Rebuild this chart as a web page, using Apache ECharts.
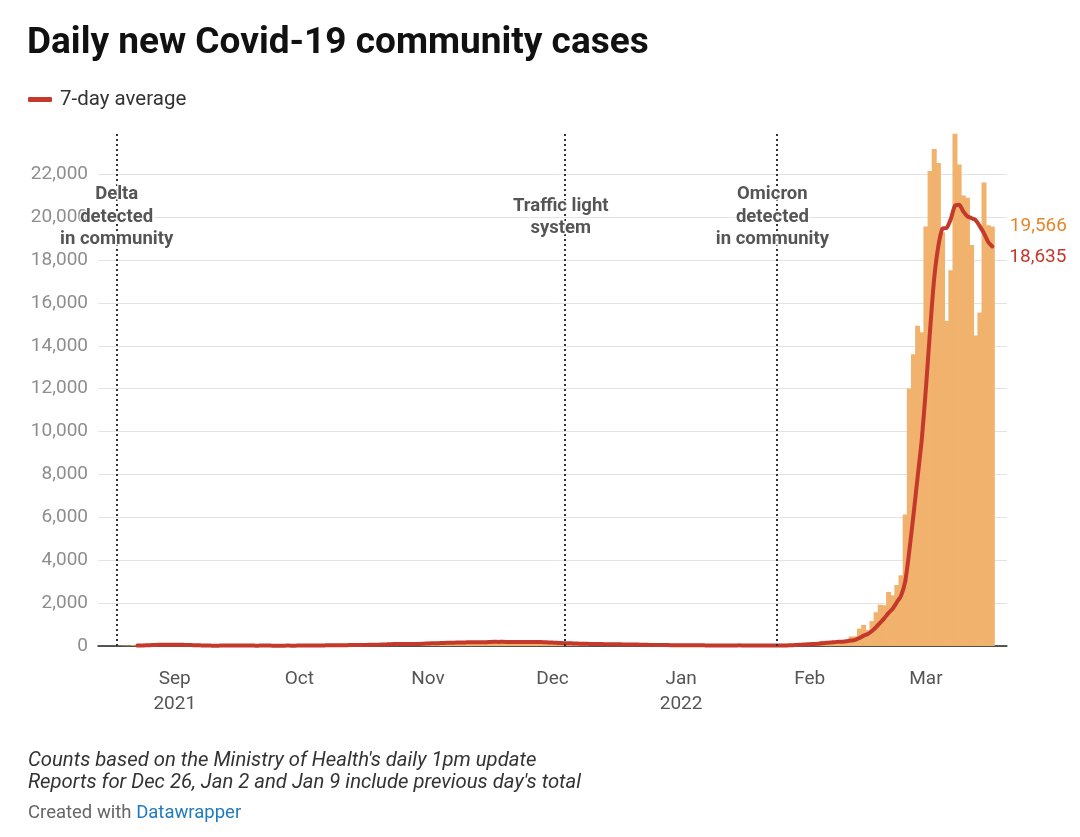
<!DOCTYPE html>
<html><head><meta charset="utf-8">
<script src="https://cdn.jsdelivr.net/npm/echarts@6/dist/echarts.min.js"></script>
<style>html,body{margin:0;padding:0;background:#fff}#c{width:1080px;height:837px}</style>
</head><body><div id="c"></div>
<script>
// ---- axis range ----
const axisStart = '2021-08-14';
const axisDays = 219;
const casesStart = '2021-08-17';
const avgStart = '2021-08-23';

// ---- daily new community cases, by month ----
const casesAug = [1, 6, 11, 20, 21, 35, 35, 41, 62, 68, 70, 83, 53, 49, 49];
const casesSep = [75, 49, 28, 20, 20, 20, 21, 13, 11, 11, 20, 33, 33, 15, 15, 13, 11, 23, 24, 22, 14, 17, 15, 9, 12, 18, 8, 45, 9, 19];
const casesOct = [19, 27, 33, 29, 27, 39, 29, 44, 34, 60, 35, 30, 55, 71, 65, 43, 51, 60, 94, 48, 102, 129, 104, 80, 79, 79, 74, 89, 125, 160, 143];
const casesNov = [162, 126, 100, 147, 163, 206, 190, 190, 125, 147, 185, 175, 201, 207, 173, 222, 194, 167, 200, 172, 143, 205, 215, 215, 178, 182, 149, 137, 181, 134];
const casesDec = [146, 123, 92, 99, 135, 102, 101, 89, 87, 77, 86, 94, 82, 72, 80, 79, 68, 53, 53, 60, 75, 52, 56, 30, null, 63, 53, 43, 43, 29, 49];
const casesJan = [null, 57, 27, 21, 40, 39, 12, null, 61, 29, 14, 26, 25, 18, 36, 26, 25, 24, 24, 15, 22, 28, 25, 6, 23, 56, 47, 80, 103, 89, 106];
const casesFeb = [91, 142, 147, 243, 208, 188, 243, 202, 184, 306, 446, 454, 810, 980, 744, 1160, 1573, 1929, 1901, 2522, 2365, 2846, 3297, 6137, 12011, 13606, 14941, 14633];
const casesMar = [19566, 22152, 23183, 22527, 19300, 15161, 17522, 23894, 22454, 21015, 20907, 18699, 14485, 15554, 21616, 19618, 19566];

// ---- 7-day average, by month ----
const avgAug = [18, 24, 32, 40, 47, 56, 59, 61, 62];
const avgSep = [64, 61, 55, 46, 41, 37, 33, 24, 19, 17, 17, 18, 20, 19, 20, 20, 20, 20, 19, 18, 17, 18, 18, 18, 16, 15, 13, 18, 17, 17];
const avgOct = [19, 21, 23, 26, 23, 28, 29, 33, 34, 37, 38, 39, 41, 47, 50, 51, 50, 54, 63, 62, 66, 75, 84, 88, 91, 89, 92, 91, 90, 98, 107];
const avgNov = [119, 126, 129, 138, 143, 150, 156, 160, 160, 167, 172, 174, 173, 176, 173, 187, 194, 191, 195, 191, 182, 186, 185, 188, 190, 187, 184, 183, 180, 168];
const avgDec = [158, 150, 137, 130, 130, 119, 114, 106, 101, 99, 97, 91, 88, 84, 83, 81, 80, 75, 70, 66, 67, 63, 60, 54, 47, 48, 47, 42, 41, 37, 40];
const avgJan = [40, 39, 35, 32, 32, 33, 28, 28, 29, 29, 28, 26, 24, 25, 30, 25, 24, 26, 25, 24, 25, 23, 23, 21, 20, 25, 30, 38, 49, 58, 72];
const avgFeb = [82, 94, 108, 132, 147, 161, 180, 196, 202, 225, 254, 289, 378, 483, 561, 700, 881, 1093, 1300, 1544, 1742, 2042, 2348, 2999, 4440, 6112, 7886, 9639];
const avgMar = [12027, 14721, 17156, 18658, 19472, 19503, 19916, 20534, 20577, 20268, 20036, 19950, 19854, 19573, 19247, 18842, 18635];

// ---- axis labels ----
const monthLabels = {
  '2021-09-01': 'Sep\n2021', '2021-10-01': 'Oct', '2021-11-01': 'Nov', '2021-12-01': 'Dec',
  '2022-01-01': 'Jan\n2022', '2022-02-01': 'Feb', '2022-03-01': 'Mar'
};
const yTicks = [0, 2000, 4000, 6000, 8000, 10000, 12000, 14000, 16000, 18000, 20000, 22000];

// ---- annotations ----
const eventLineDates = ['2021-08-18', '2021-12-04', '2022-01-24'];
const eventLabels = [
  { date: '2021-08-18', text: 'Delta\ndetected\nin community' },
  { date: '2021-12-03', text: 'Traffic light\nsystem' },
  { date: '2022-01-23', text: 'Omicron\ndetected\nin community' }
];
const eventLabelLevel = 20000;

// ---- build ----
const DAY = 86400000;
const t0 = Date.parse(axisStart + 'T00:00:00Z');
const dates = [];
for (let i = 0; i < axisDays; i++) dates.push(new Date(t0 + i * DAY).toISOString().slice(0, 10));

function place(start, parts) {
  const arr = new Array(axisDays).fill(null);
  let idx = dates.indexOf(start);
  parts.forEach(p => p.forEach(v => { arr[idx++] = v; }));
  return arr;
}
const cases = place(casesStart, [casesAug, casesSep, casesOct, casesNov, casesDec, casesJan, casesFeb, casesMar]);
const avg = place(avgStart, [avgAug, avgSep, avgOct, avgNov, avgDec, avgJan, avgFeb, avgMar]);

let lastIdx = axisDays - 1;
while (cases[lastIdx] == null) lastIdx--;
const fmt = v => Number(v).toLocaleString('en-US');
const BAR = '#f1b26d';
const barData = cases.map((v, i) => i === lastIdx ? {
  value: v,
  label: {
    show: true, position: ['100%', 0], align: 'left', verticalAlign: 'middle', offset: [15, 0],
    formatter: p => fmt(p.value), color: '#e4872b', fontSize: 19, fontFamily: 'Roboto'
  }
} : v);

const FONT = 'Roboto';
const chart = echarts.init(document.getElementById('c'), null, { renderer: 'canvas' });
chart.setOption({
  animation: false,
  backgroundColor: '#fff',
  title: {
    text: 'Daily new Covid-19 community cases',
    left: 22, top: 20,
    textStyle: { fontFamily: FONT, fontSize: 37, fontWeight: 'bold', color: '#111' }
  },
  legend: {
    data: ['7-day average'], left: 23, top: 84,
    icon: 'roundRect', itemWidth: 24, itemHeight: 5, itemGap: 10,
    textStyle: { fontFamily: FONT, fontSize: 20.5, color: '#333', padding: [0, 0, 0, 3] }
  },
  grid: { left: 98, top: 131.4, width: 908.85, height: 514.6, containLabel: false },
  xAxis: {
    type: 'category', data: dates, boundaryGap: true,
    axisLine: { lineStyle: { color: '#222', width: 1.5 } },
    axisTick: {
      alignWithLabel: true, length: 7, lineStyle: { color: '#222', width: 1.5 },
      interval: (i, v) => monthLabels[v] !== undefined
    },
    axisLabel: {
      interval: (i, v) => monthLabels[v] !== undefined,
      formatter: v => monthLabels[v] || '',
      color: '#555', fontFamily: FONT, fontSize: 19, lineHeight: 25, margin: 21
    },
    splitLine: { show: false }
  },
  yAxis: {
    type: 'value', min: 0, max: 24000, interval: 2000,
    axisLine: { show: false }, axisTick: { show: false },
    axisLabel: {
      formatter: v => yTicks.indexOf(v) >= 0 ? fmt(v) : '',
      color: '#8e8e8e', fontFamily: FONT, fontSize: 19, margin: 10
    },
    splitLine: { show: true, showMaxLine: false, lineStyle: { color: '#e3e3e3', width: 1 } }
  },
  series: [
    {
      name: 'Daily cases', type: 'bar', data: barData,
      barWidth: 5, barGap: '-100%',
      itemStyle: { color: BAR },
      silent: true, z: 2,
      markLine: {
        silent: true, symbol: ['none', 'none'],
        label: { show: false },
        lineStyle: { color: '#333', width: 2, type: [2, 3] },
        data: eventLineDates.map(d => ({ xAxis: d }))
      }
    },
    {
      name: '7-day average', type: 'line', data: avg,
      showSymbol: false, symbol: 'none', smooth: 0.25,
      lineStyle: { color: '#c4392b', width: 4, cap: 'round', join: 'round' },
      itemStyle: { color: '#c4392b' },
      z: 4, silent: true,
      endLabel: {
        show: true, formatter: p => fmt(p.value), offset: [9, 11],
        color: '#c4392b', fontSize: 19, fontFamily: FONT
      }
    },
    {
      name: 'annotations', type: 'scatter', symbolSize: 0, silent: true, z: 6,
      data: eventLabels.map(e => ({ value: [e.date, eventLabelLevel], text: e.text })),
      label: {
        show: true, position: 'inside', formatter: p => p.data.text,
        fontFamily: FONT, fontSize: 18.5, fontWeight: 'bold', color: '#2b2b2b',
        lineHeight: 22.5, textBorderColor: '#fff', textBorderWidth: 3, align: 'center', verticalAlign: 'middle'
      }
    }
  ],
  graphic: [
    {
      type: 'text', left: 28, top: 750,
      style: {
        text: "Counts based on the Ministry of Health's daily 1pm update\nReports for Dec 26, Jan 2 and Jan 9 include previous day's total",
        font: 'italic 20.3px Roboto', fill: '#333', lineHeight: 22
      }
    },
    {
      type: 'text', left: 28, top: 804,
      style: {
        text: '{a|Created with }{b|Datawrapper}',
        rich: {
          a: { fill: '#666', fontSize: 18.5, fontFamily: FONT },
          b: { fill: '#1f7bbf', fontSize: 18.5, fontFamily: FONT }
        }
      }
    }
  ]
});
</script>
</body></html>
